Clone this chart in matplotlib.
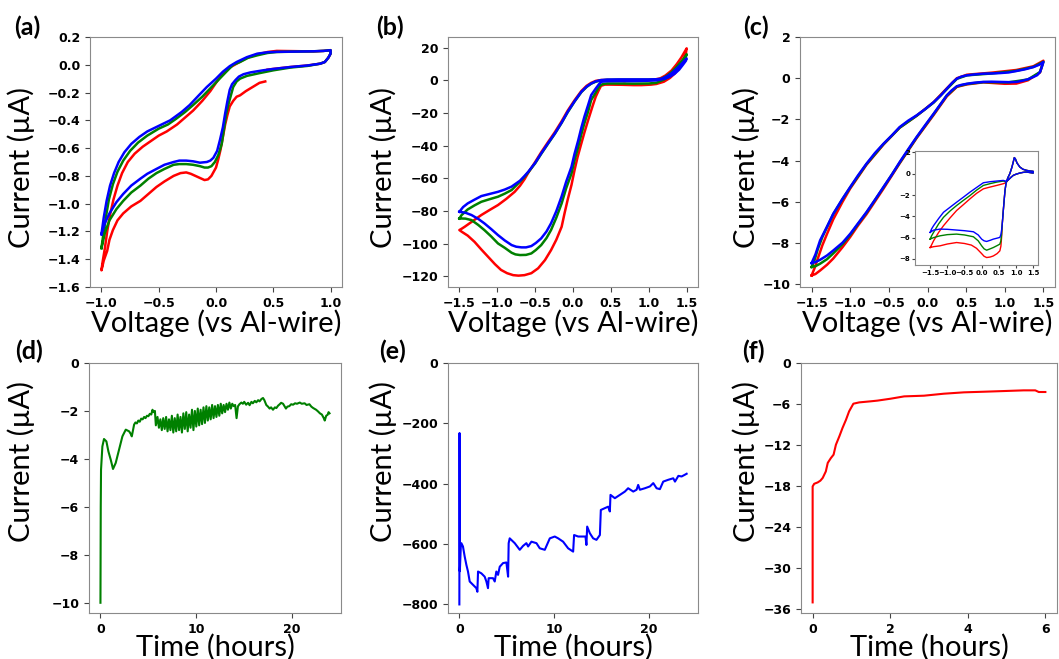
import matplotlib.pyplot as plt

plt.rcParams["font.family"] = ["DejaVu Sans"]
plt.rcParams["font.weight"] = "bold"

LABEL_FONT = ["Lato", "DejaVu Sans"]

# ---------------- (a) CV, potential -1..1 V ----------------
a_blue = [(-1.0, -1.22), (-0.98, -1.10), (-0.955, -0.98), (-0.925, -0.87), (-0.89, -0.78), (-0.85, -0.70),
          (-0.8, -0.63), (-0.74, -0.57), (-0.67, -0.52), (-0.6, -0.48), (-0.5, -0.44), (-0.4, -0.40),
          (-0.3, -0.34), (-0.23, -0.29), (-0.15, -0.22), (-0.08, -0.16), (0.0, -0.10), (0.06, -0.05),
          (0.12, -0.01), (0.18, 0.02), (0.27, 0.055), (0.36, 0.08), (0.45, 0.09), (0.53, 0.093),
          (0.7, 0.095), (0.85, 0.097), (0.94, 0.1), (1.0, 0.105),
          (1.0, 0.08), (0.98, 0.05), (0.95, 0.02), (0.91, 0.008), (0.8, -0.005), (0.65, -0.016),
          (0.5, -0.03), (0.41, -0.04), (0.3, -0.055), (0.24, -0.068), (0.2, -0.085), (0.17, -0.11),
          (0.14, -0.14), (0.12, -0.18), (0.1, -0.26), (0.08, -0.35), (0.06, -0.45), (0.035, -0.54),
          (0.01, -0.62), (-0.023, -0.67), (-0.05, -0.69), (-0.08, -0.70), (-0.14, -0.705), (-0.2, -0.695),
          (-0.26, -0.69), (-0.32, -0.69), (-0.37, -0.70), (-0.45, -0.72), (-0.52, -0.75), (-0.6, -0.785),
          (-0.66, -0.82), (-0.74, -0.87), (-0.81, -0.93), (-0.87, -0.99), (-0.93, -1.07), (-0.97, -1.14),
          (-1.0, -1.22)]
a_green = [(-1.0, -1.32), (-0.98, -1.2), (-0.96, -1.09), (-0.935, -0.97), (-0.9, -0.86), (-0.86, -0.77),
           (-0.81, -0.69), (-0.75, -0.62), (-0.68, -0.56), (-0.6, -0.51), (-0.5, -0.46), (-0.42, -0.43),
           (-0.35, -0.39), (-0.27, -0.34), (-0.2, -0.29), (-0.12, -0.23), (-0.05, -0.17),
           (0.02, -0.11), (0.09, -0.05), (0.15, 0.0), (0.21, 0.02), (0.28, 0.05), (0.36, 0.068),
           (0.45, 0.085), (0.53, 0.092), (0.7, 0.095), (0.85, 0.097), (0.94, 0.1), (1.0, 0.105),
           (1.0, 0.08), (0.98, 0.05), (0.95, 0.02), (0.91, 0.008), (0.8, -0.008), (0.65, -0.02),
           (0.5, -0.04), (0.38, -0.06), (0.27, -0.08), (0.21, -0.1), (0.18, -0.12), (0.15, -0.16),
           (0.13, -0.22), (0.11, -0.28), (0.09, -0.35), (0.07, -0.46), (0.05, -0.57), (0.02, -0.65),
           (-0.01, -0.70), (-0.04, -0.73), (-0.07, -0.74), (-0.1, -0.74), (-0.14, -0.73), (-0.2, -0.72),
           (-0.26, -0.715), (-0.32, -0.715), (-0.37, -0.72), (-0.45, -0.75), (-0.52, -0.78), (-0.59, -0.82),
           (-0.66, -0.87), (-0.74, -0.92), (-0.81, -0.98), (-0.87, -1.04), (-0.93, -1.12), (-0.97, -1.21),
           (-1.0, -1.32)]
a_red = [(0.43, -0.12), (0.38, -0.13), (0.32, -0.16), (0.26, -0.19), (0.21, -0.22), (0.18, -0.23),
         (0.15, -0.26), (0.12, -0.3), (0.1, -0.36), (0.08, -0.43), (0.06, -0.52), (0.04, -0.61),
         (0.02, -0.68), (0.0, -0.74), (-0.04, -0.8), (-0.07, -0.825), (-0.1, -0.83), (-0.14, -0.815),
         (-0.18, -0.8), (-0.22, -0.785), (-0.26, -0.775), (-0.31, -0.78), (-0.37, -0.80), (-0.45, -0.84),
         (-0.52, -0.88), (-0.59, -0.93), (-0.66, -0.98), (-0.74, -1.02), (-0.81, -1.07), (-0.86, -1.12),
         (-0.9, -1.19), (-0.93, -1.26), (-0.95, -1.34), (-0.98, -1.41), (-1.0, -1.48),
         (-0.99, -1.42), (-0.97, -1.32), (-0.95, -1.2), (-0.925, -1.08), (-0.895, -0.97), (-0.86, -0.87),
         (-0.82, -0.78), (-0.77, -0.70), (-0.71, -0.64), (-0.64, -0.59), (-0.57, -0.55), (-0.5, -0.51),
         (-0.43, -0.48), (-0.34, -0.43), (-0.27, -0.38), (-0.2, -0.33), (-0.12, -0.26), (-0.05, -0.19),
         (0.0, -0.13), (0.06, -0.06), (0.12, -0.02), (0.18, 0.008), (0.27, 0.05), (0.36, 0.075),
         (0.45, 0.092), (0.53, 0.1), (0.7, 0.098), (0.85, 0.096), (0.94, 0.1), (1.0, 0.105),
         (1.0, 0.08), (0.98, 0.05), (0.95, 0.02), (0.91, 0.008), (0.8, -0.005), (0.65, -0.016),
         (0.5, -0.03), (0.45, -0.035)]

# ---------------- (b) CV, potential -1.5..1.5 V ----------------
b_blue = [(-1.5, -80.4), (-1.45, -77.5), (-1.39, -75.3), (-1.3, -73.0), (-1.21, -70.8), (-1.1, -69.5),
          (-0.99, -68.2), (-0.9, -66.8), (-0.81, -65.0), (-0.7, -61.4), (-0.64, -58.5), (-0.59, -55.9),
          (-0.5, -50.5), (-0.42, -44.7), (-0.33, -38.5), (-0.24, -32.5), (-0.15, -25.8), (-0.07, -19.2),
          (0.02, -12.8), (0.11, -7.0), (0.18, -3.8), (0.24, -1.9), (0.3, -0.6), (0.37, 0.2), (0.45, 0.5),
          (0.6, 0.6), (0.8, 0.6), (1.0, 0.6), (1.1, 0.7), (1.17, 1.0), (1.24, 2.5), (1.3, 4.3),
          (1.36, 6.8), (1.42, 9.5), (1.48, 12.5), (1.5, 13.4),
          (1.49, 12.0), (1.45, 9.5), (1.4, 6.5), (1.34, 4.0), (1.27, 2.0), (1.21, 1.0), (1.1, 0.0),
          (0.99, -0.2), (0.8, -0.4), (0.6, -0.4), (0.45, -0.5), (0.38, -0.8), (0.35, -1.9), (0.3, -5.0),
          (0.24, -9.0), (0.2, -15.0), (0.15, -22.3), (0.11, -29.0), (0.07, -36.5), (0.02, -45.0),
          (-0.02, -52.9), (-0.09, -62.0), (-0.15, -71.0), (-0.22, -80.0), (-0.29, -87.5), (-0.35, -92.5),
          (-0.42, -96.7), (-0.49, -99.5), (-0.55, -101.4), (-0.62, -102.2), (-0.68, -102.2), (-0.75, -101.8),
          (-0.81, -100.8), (-0.9, -98.0), (-0.99, -94.7), (-1.08, -91.0), (-1.17, -87.5), (-1.25, -84.8),
          (-1.34, -82.4), (-1.42, -81.0), (-1.5, -80.4)]
b_green = [(-1.5, -84.5), (-1.47, -82.4), (-1.39, -79.0), (-1.3, -76.5), (-1.21, -74.3), (-1.1, -72.7),
           (-0.99, -71.2), (-0.9, -69.3), (-0.81, -67.1), (-0.7, -62.0), (-0.64, -59.0), (-0.59, -56.2),
           (-0.5, -50.8), (-0.42, -45.0), (-0.33, -38.8), (-0.24, -32.7), (-0.15, -26.0), (-0.07, -19.5),
           (0.02, -13.0), (0.11, -7.2), (0.18, -4.0), (0.24, -2.0), (0.3, -0.8), (0.37, 0.0), (0.45, 0.3),
           (0.6, 0.4), (0.8, 0.4), (1.0, 0.4), (1.1, 0.5), (1.17, 1.0), (1.24, 2.8), (1.3, 5.0),
           (1.36, 7.8), (1.42, 11.0), (1.48, 14.5), (1.5, 16.0),
           (1.49, 14.5), (1.45, 11.5), (1.4, 8.0), (1.34, 5.0), (1.27, 2.5), (1.2, 0.5), (1.1, -1.5),
           (1.0, -1.9), (0.8, -2.0), (0.6, -1.9), (0.45, -1.9), (0.4, -2.2), (0.36, -3.0), (0.33, -5.0),
           (0.28, -9.0), (0.24, -12.0), (0.2, -19.0), (0.15, -26.3), (0.11, -33.0), (0.07, -40.6),
           (0.02, -49.0), (-0.02, -57.0), (-0.09, -66.0), (-0.15, -75.3), (-0.22, -84.0), (-0.29, -91.6),
           (-0.35, -96.5), (-0.42, -100.8), (-0.49, -103.8), (-0.55, -105.9), (-0.62, -106.8), (-0.7, -106.9),
           (-0.76, -106.5), (-0.81, -105.5), (-0.9, -102.5), (-0.99, -99.8), (-1.08, -95.5), (-1.17, -91.6),
           (-1.25, -88.5), (-1.34, -85.5), (-1.42, -84.6), (-1.5, -84.5)]
b_red = [(0.68, -0.3), (0.8, -0.2), (0.95, -0.1), (1.05, 0.3), (1.15, 1.2), (1.22, 3.0), (1.3, 6.0),
         (1.37, 10.0), (1.43, 14.0), (1.48, 18.0), (1.5, 19.6),
         (1.49, 16.5), (1.46, 12.5), (1.41, 8.5), (1.35, 4.5), (1.28, 1.5), (1.2, -0.8), (1.1, -2.2),
         (1.03, -2.6), (0.9, -2.9), (0.8, -2.9), (0.65, -2.7), (0.5, -2.6), (0.42, -2.6), (0.37, -3.3),
         (0.34, -6.0), (0.3, -10.0), (0.26, -15.5), (0.2, -24.3), (0.15, -32.0), (0.11, -38.6),
         (0.06, -47.0), (0.02, -55.0), (-0.02, -64.0), (-0.07, -73.0), (-0.11, -81.0), (-0.15, -89.6),
         (-0.22, -97.5), (-0.29, -103.9), (-0.37, -110.0), (-0.46, -115.0), (-0.55, -118.0), (-0.64, -119.2),
         (-0.72, -119.5), (-0.79, -119.2), (-0.87, -118.0), (-0.95, -116.0), (-1.03, -112.5), (-1.12, -108.0),
         (-1.21, -103.5), (-1.3, -98.8), (-1.39, -95.0), (-1.47, -92.6), (-1.5, -91.6),
         (-1.47, -90.8), (-1.43, -89.6), (-1.32, -86.0), (-1.21, -82.4), (-1.1, -79.3), (-0.99, -76.3),
         (-0.88, -72.5), (-0.77, -68.2), (-0.7, -64.5), (-0.64, -60.5), (-0.59, -56.5), (-0.5, -50.0),
         (-0.42, -44.0), (-0.33, -37.8), (-0.24, -31.7), (-0.15, -25.0), (-0.07, -18.5), (0.02, -12.2),
         (0.11, -6.5), (0.18, -3.3), (0.24, -1.5), (0.3, -0.3), (0.37, 0.2), (0.46, 0.2), (0.55, 0.0),
         (0.68, -0.4)]

# ---------------- (c) CV main ----------------
c_blue = [(-1.5, -8.97), (-1.45, -8.55), (-1.39, -7.87), (-1.3, -7.2), (-1.22, -6.58), (-1.1, -5.85),
          (-1.0, -5.28), (-0.9, -4.72), (-0.79, -4.15), (-0.68, -3.63), (-0.57, -3.18), (-0.46, -2.77),
          (-0.36, -2.37), (-0.25, -2.06), (-0.14, -1.80), (-0.03, -1.5), (0.08, -1.16), (0.17, -0.84),
          (0.25, -0.51), (0.32, -0.22), (0.38, -0.02), (0.44, 0.08), (0.51, 0.14), (0.6, 0.18),
          (0.72, 0.22), (0.83, 0.23), (0.94, 0.25), (1.05, 0.28), (1.15, 0.35), (1.26, 0.43),
          (1.37, 0.54), (1.45, 0.66), (1.5, 0.79),
          (1.48, 0.55), (1.456, 0.3), (1.42, 0.15), (1.37, 0.06), (1.3, -0.05), (1.22, -0.13),
          (1.15, -0.18), (1.05, -0.19), (0.94, -0.18), (0.83, -0.17), (0.72, -0.18), (0.6, -0.22),
          (0.51, -0.27), (0.44, -0.32), (0.38, -0.39), (0.31, -0.6), (0.25, -0.83), (0.17, -1.25),
          (0.08, -1.72), (-0.03, -2.28), (-0.14, -2.85), (-0.25, -3.45), (-0.36, -4.07), (-0.46, -4.67),
          (-0.57, -5.28), (-0.68, -5.9), (-0.79, -6.5), (-0.9, -7.05), (-1.0, -7.55), (-1.1, -7.98),
          (-1.22, -8.36), (-1.3, -8.6), (-1.39, -8.81), (-1.45, -8.92), (-1.5, -8.97)]
c_green = [(-1.5, -9.16), (-1.46, -8.8), (-1.42, -8.3), (-1.36, -7.7), (-1.3, -7.22), (-1.22, -6.6),
           (-1.1, -5.87), (-1.0, -5.3), (-0.79, -4.17), (-0.57, -3.2), (-0.36, -2.4), (-0.14, -1.82),
           (0.08, -1.18), (0.25, -0.53), (0.38, -0.03), (0.51, 0.14), (0.83, 0.23), (1.15, 0.36),
           (1.37, 0.55), (1.5, 0.8), (1.456, 0.3), (1.3, -0.06), (1.05, -0.2), (0.72, -0.19),
           (0.51, -0.28), (0.38, -0.4), (0.25, -0.84), (0.08, -1.74), (-0.14, -2.87), (-0.36, -4.1),
           (-0.57, -5.3), (-0.79, -6.53), (-0.9, -7.08), (-1.0, -7.6), (-1.1, -8.05), (-1.22, -8.5),
           (-1.3, -8.78), (-1.39, -9.0), (-1.45, -9.12), (-1.5, -9.16)]
c_red = [(-1.5, -9.57), (-1.46, -9.2), (-1.42, -8.75), (-1.36, -8.1), (-1.3, -7.55), (-1.22, -6.85),
         (-1.1, -6.0), (-1.0, -5.35), (-0.79, -4.2), (-0.57, -3.22), (-0.36, -2.4), (-0.14, -1.82),
         (0.08, -1.16), (0.25, -0.49), (0.38, 0.0), (0.51, 0.17), (0.83, 0.27), (1.15, 0.4),
         (1.37, 0.58), (1.5, 0.85), (1.456, 0.28), (1.3, -0.1), (1.15, -0.26), (1.0, -0.27), (0.72, -0.2),
         (0.51, -0.3), (0.38, -0.42), (0.25, -0.88), (0.08, -1.78), (-0.14, -2.9), (-0.36, -4.13),
         (-0.57, -5.36), (-0.79, -6.6), (-0.9, -7.15), (-1.0, -7.7), (-1.1, -8.2), (-1.22, -8.75),
         (-1.3, -9.05), (-1.39, -9.33), (-1.45, -9.5), (-1.5, -9.57)]

# ---------------- (c) inset ----------------
ins_peak = [(0.6, -4.7), (0.63, -3.46), (0.66, -2.3), (0.68, -1.57), (0.71, -0.9), (0.76, -0.4),
            (0.82, 0.0), (0.88, 0.6), (0.92, 1.1), (0.95, 1.51), (0.98, 1.4), (1.03, 1.0), (1.11, 0.63),
            (1.2, 0.42), (1.31, 0.31), (1.42, 0.25), (1.5, 0.22), (1.5, 0.06), (1.42, 0.1), (1.3, 0.16),
            (1.2, 0.12), (1.11, 0.06), (1.0, -0.05), (0.92, -0.16), (0.85, -0.35), (0.77, -0.6)]
ins_red_low = [(-1.5, -6.93), (-1.4, -6.85), (-1.21, -6.77), (-1.0, -6.6), (-0.73, -6.46), (-0.5, -6.55),
               (-0.3, -6.7), (-0.15, -7.0), (0.0, -7.5), (0.07, -7.75), (0.145, -7.87), (0.25, -7.82),
               (0.34, -7.72), (0.45, -7.5), (0.53, -7.24), (0.56, -6.8), (0.58, -5.98)]
ins_red_up = [(0.7, -0.85), (0.63, -0.94), (0.44, -1.1), (0.25, -1.25), (0.05, -1.42), (-0.15, -1.85),
              (-0.34, -2.36), (-0.53, -2.9), (-0.73, -3.46), (-0.92, -4.15), (-1.11, -4.88), (-1.25, -5.5),
              (-1.4, -6.3), (-1.46, -6.7), (-1.5, -6.93)]
ins_green_low = [(-1.5, -6.14), (-1.4, -6.0), (-1.21, -5.83), (-1.0, -5.72), (-0.73, -5.67), (-0.5, -5.75),
                 (-0.24, -5.92), (-0.1, -6.3), (0.0, -6.77), (0.07, -7.05), (0.145, -7.18), (0.25, -7.05),
                 (0.34, -6.93), (0.45, -6.75), (0.53, -6.61), (0.56, -6.3), (0.58, -5.7)]
ins_green_up = [(0.7, -0.75), (0.63, -0.69), (0.44, -0.79), (0.25, -0.93), (0.05, -1.1), (-0.15, -1.55),
                (-0.34, -2.05), (-0.53, -2.5), (-0.73, -2.99), (-0.92, -3.5), (-1.11, -4.09), (-1.25, -4.7),
                (-1.4, -5.51), (-1.46, -5.85), (-1.5, -6.14)]
ins_blue_low = [(-1.5, -5.51), (-1.4, -5.3), (-1.21, -5.2), (-1.0, -5.22), (-0.73, -5.29), (-0.5, -5.35),
                (-0.24, -5.45), (-0.1, -5.75), (0.0, -6.14), (0.07, -6.3), (0.145, -6.36), (0.25, -6.25),
                (0.34, -6.14), (0.45, -6.05), (0.53, -5.98), (0.56, -5.7), (0.58, -5.3)]
ins_blue_up = [(0.7, -0.7), (0.63, -0.63), (0.44, -0.69), (0.25, -0.75), (0.05, -0.85), (-0.15, -1.3),
               (-0.34, -1.73), (-0.53, -2.2), (-0.73, -2.68), (-0.92, -3.15), (-1.11, -3.62), (-1.25, -4.2),
               (-1.4, -4.88), (-1.46, -5.2), (-1.5, -5.51)]

# ---------------- (d) chronoamperometry, green ----------------
d_time = [0, 0.03, 0.06, 0.2, 0.37, 0.62, 0.83, 1.07, 1.31, 1.59, 1.94, 2.29, 2.64, 2.99, 3.15, 3.27,
          3.4, 3.51, 3.65, 3.8, 3.95, 4.1, 4.25, 4.4, 4.56, 4.7, 4.85, 5.0, 5.15, 5.3, 5.43, 5.55, 5.68,
          5.78, 5.95, 6.1, 6.25, 6.4, 6.55, 6.7, 6.85, 7.0, 7.15, 7.3, 7.45, 7.6, 7.75, 7.9, 8.05,
          8.2, 8.35, 8.5, 8.65, 8.8, 8.95, 9.1, 9.25, 9.4, 9.55, 9.7, 9.85, 10.0, 10.15, 10.3, 10.45,
          10.6, 10.75, 10.9, 11.05, 11.2, 11.35, 11.5, 11.65, 11.8, 11.95, 12.1, 12.25, 12.4, 12.55,
          12.7, 12.85, 13.0, 13.15, 13.3, 13.45, 13.6, 13.75, 13.9, 14.05, 14.2, 14.34,
          14.5, 14.7, 14.86, 15.0, 15.2, 15.4, 15.56, 15.75, 15.9, 16.1, 16.26, 16.45, 16.6, 16.8,
          16.96, 17.1, 17.3, 17.48, 17.65, 17.8, 18.0, 18.2, 18.35, 18.53, 18.7, 18.85, 19.05, 19.2,
          19.35, 19.5, 19.7, 19.9, 20.1, 20.3, 20.5, 20.8, 21.0, 21.3, 21.5, 21.8, 22.0, 22.2, 22.5,
          22.7, 22.9, 23.1, 23.3, 23.4, 23.55, 23.7, 23.8, 23.9]
d_current = [-10.0, -6.0, -4.45, -3.48, -3.17, -3.27, -3.69, -4.03, -4.42, -4.17, -3.62, -3.06, -2.78,
             -2.85, -2.95, -3.06, -2.8, -2.57, -2.48, -2.52, -2.4, -2.45, -2.32, -2.35, -2.25, -2.3,
             -2.2, -2.22, -2.12, -2.15, -1.95, -2.05, -2.0,
             -2.6, -2.25, -2.7, -2.35, -2.8, -2.3, -2.75, -2.25, -2.85, -2.35, -2.8, -2.2, -2.9, -2.3,
             -2.85, -2.15, -2.8, -2.25, -2.9, -2.1, -2.75, -2.05, -2.85, -2.15, -2.7, -1.95, -2.8,
             -2.0, -2.65, -1.9, -2.6, -1.95, -2.55, -1.85, -2.5, -1.8, -2.4, -1.85, -2.35, -1.75,
             -2.3, -1.8, -2.25, -1.75, -2.2, -1.7, -2.1, -1.75, -2.05, -1.7, -1.95, -1.65, -1.9,
             -1.7, -1.8, -1.75, -2.3, -1.81,
             -1.72, -1.65, -1.7, -1.62, -1.74, -1.66, -1.76, -1.62, -1.68, -1.58, -1.64, -1.55, -1.6,
             -1.5, -1.46, -1.55, -1.75, -1.82, -1.9, -1.85, -1.95, -1.85, -1.88, -1.78, -1.72, -1.66,
             -1.7, -1.8, -1.9, -1.82, -1.8, -1.72, -1.74, -1.68, -1.7, -1.65, -1.7, -1.68, -1.75,
             -1.72, -1.82, -1.88, -1.95, -2.02, -2.1, -2.15, -2.3, -2.4, -2.2, -2.16, -2.05, -2.1]

# ---------------- (e) chronoamperometry, blue ----------------
e_time = [0, 0.02, 0.05, 0.15, 0.21, 0.38, 0.56, 0.74, 0.91, 1.09, 1.44, 1.79, 1.9, 1.97, 2.32, 2.67,
          2.85, 3.02, 3.09, 3.55, 3.73, 3.9, 4.08, 4.26, 4.61, 4.96, 5.14, 5.2, 5.31, 5.84, 6.37, 6.72,
          7.07, 7.25, 7.6, 8.13, 8.48, 9.01, 9.54, 10.06, 10.42, 10.94, 11.47, 12.0, 12.1, 12.53,
          13.06, 13.3, 13.4, 13.48, 13.76, 14.11, 14.46, 14.82, 14.92, 15.34, 15.7, 15.87, 15.94,
          16.4, 16.93, 17.46, 17.8, 18.34, 18.69, 18.86, 19.04, 19.57, 20.1, 20.45, 20.8, 21.15,
          21.5, 22.03, 22.56, 22.74, 23.1, 23.44, 23.8, 23.97]
e_current = [-800, -232, -690, -610, -597, -608, -641, -669, -691, -724, -735, -746, -758, -691, -697,
             -708, -724, -746, -713, -713, -724, -691, -702, -675, -663, -661, -708, -597, -581, -597,
             -619, -606, -597, -608, -592, -597, -614, -619, -581, -575, -581, -592, -614, -625, -570,
             -575, -575, -575, -603, -542, -564, -581, -586, -570, -487, -481, -476, -492, -437, -448,
             -437, -426, -415, -426, -420, -404, -420, -415, -409, -398, -415, -418, -393, -387, -382,
             -393, -374, -376, -370, -367]

# ---------------- (f) chronoamperometry, red ----------------
f_time = [0, 0, 0.04, 0.13, 0.2, 0.26, 0.34, 0.39, 0.47, 0.54, 0.6, 0.69, 0.77, 0.86, 0.94, 1.05, 1.2,
          1.5, 1.67, 2.01, 2.36, 2.87, 3.38, 3.9, 4.41, 4.93, 5.44, 5.74, 5.83, 6.0]
f_current = [-35.0, -18.05, -17.66, -17.46, -17.2, -16.8, -15.85, -14.6, -13.9, -13.4, -11.95, -10.7,
             -9.5, -8.3, -7.07, -5.95, -5.76, -5.6, -5.5, -5.22, -4.88, -4.78, -4.49, -4.29, -4.2, -4.1,
             -4.0, -4.0, -4.24, -4.24]


def xy(points):
    return [p[0] for p in points], [p[1] for p in points]


def style(ax, xlabel, ylab_x, ylab_y, xlab_y):
    for s in ax.spines.values():
        s.set_color("#8a8a8a")
    ax.tick_params(labelsize=9, color="#444444", length=3.5)
    ax.set_xlabel(xlabel, fontsize=21, family=LABEL_FONT, fontweight="normal")
    ax.set_ylabel("Current (\u00b5A)", fontsize=21, family=LABEL_FONT, fontweight="normal")
    ax.xaxis.set_label_coords(0.5, xlab_y)
    ax.yaxis.set_label_coords(ylab_x, ylab_y)


fig = plt.figure(figsize=(10.59, 6.59), dpi=100)
W, H = 1059, 659


def axes_px(left, top, right, bottom):
    return fig.add_axes([left / W, 1 - bottom / H, (right - left) / W, (bottom - top) / H])


lw = 1.8
ax_a = axes_px(90, 37, 342, 287)
for pts, col in [(a_red, "red"), (a_green, "green"), (a_blue, "blue")]:
    ax_a.plot(*xy(pts), color=col, lw=lw)
ax_a.set_ylim(-1.6, 0.2)
ax_a.set_yticks([0.2, 0.0, -0.2, -0.4, -0.6, -0.8, -1.0, -1.2, -1.4, -1.6])
ax_a.set_xticks([-1.0, -0.5, 0.0, 0.5, 1.0])
style(ax_a, "Voltage (vs Al-wire)", -0.218, 0.48, -0.09)

ax_b = axes_px(448, 37, 698, 287)
for pts, col in [(b_red, "red"), (b_green, "green"), (b_blue, "blue")]:
    ax_b.plot(*xy(pts), color=col, lw=lw)
ax_b.set_xticks([-1.5, -1.0, -0.5, 0.0, 0.5, 1.0, 1.5])
style(ax_b, "Voltage (vs Al-wire)", -0.204, 0.48, -0.09)

ax_c = axes_px(800, 37, 1055, 287)
for pts, col in [(c_red, "red"), (c_green, "green"), (c_blue, "blue")]:
    ax_c.plot(*xy(pts), color=col, lw=lw)
ax_c.set_ylim(-10.13, 2.0)
ax_c.set_xticks([-1.5, -1.0, -0.5, 0.0, 0.5, 1.0, 1.5])
style(ax_c, "Voltage (vs Al-wire)", -0.157, 0.48, -0.09)

ax_in = axes_px(915, 151, 1038, 265)
for low, up, col in [(ins_red_low, ins_red_up, "red"), (ins_green_low, ins_green_up, "green"),
                     (ins_blue_low, ins_blue_up, "blue")]:
    ax_in.plot(*xy(low + ins_peak + up), color=col, lw=1.0)
ax_in.set_xlim(-1.94, 1.64)
ax_in.set_ylim(-8.57, 2.13)
ax_in.set_xticks([-1.5, -1.0, -0.5, 0.0, 0.5, 1.0, 1.5])
ax_in.set_yticks([2, 0, -2, -4, -6, -8])
ax_in.tick_params(labelsize=5, length=2, color="#444444", pad=1.5)
for s in ax_in.spines.values():
    s.set_color("#8a8a8a")

ax_d = axes_px(89, 363, 341, 613)
ax_d.plot(d_time, d_current, color="green", lw=1.5)
ax_d.set_ylim(top=0)
ax_d.set_xticks([0, 10, 20])
style(ax_d, "Time (hours)", -0.214, 0.604, -0.084)

ax_e = axes_px(448, 363, 698, 613)
ax_e.plot(e_time, e_current, color="blue", lw=1.5)
ax_e.set_ylim(top=0)
ax_e.set_xticks([0, 10, 20])
ax_e.set_yticks([0, -200, -400, -600, -800])
style(ax_e, "Time (hours)", -0.204, 0.604, -0.084)

ax_f = axes_px(801, 363, 1057, 613)
ax_f.plot(f_time, f_current, color="red", lw=1.5)
ax_f.set_ylim(top=0)
ax_f.set_yticks([0, -6, -12, -18, -24, -30, -36])
style(ax_f, "Time (hours)", -0.159, 0.604, -0.084)

for lab, x, y in [("(a)", 27, 27), ("(b)", 390, 27), ("(c)", 756, 27),
                  ("(d)", 29, 351), ("(e)", 392, 351), ("(f)", 753, 351)]:
    fig.text(x / W, 1 - y / H, lab, fontsize=18, fontweight="bold", family=LABEL_FONT,
             ha="center", va="center")

fig.savefig("out.png", dpi=100)
